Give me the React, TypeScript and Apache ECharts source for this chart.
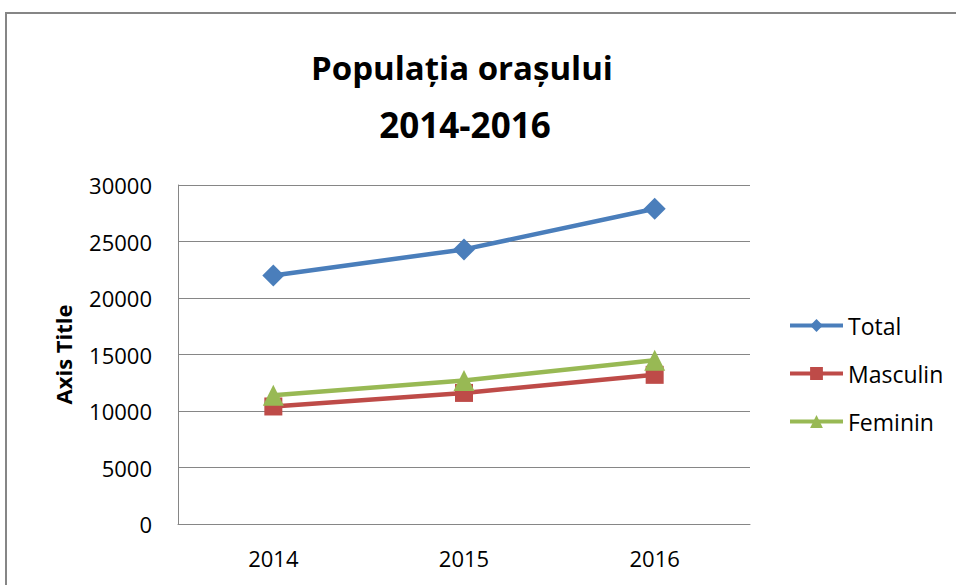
import React, { useEffect, useRef } from "react";
import * as echarts from "echarts";

const years = ["2014", "2015", "2016"];
const totalValues = [22000, 24300, 27900];
const masculinValues = [10400, 11600, 13200];
const femininValues = [11400, 12700, 14500];
const titleLines = ["Populația orașului", "2014-2016"];
const yAxisName = "Axis Title";

const FONT = "'Open Sans', Lato, 'DejaVu Sans', sans-serif";

export default function App() {
  const ref = useRef<HTMLDivElement>(null);
  useEffect(() => {
    if (!ref.current) return;
    const chart = echarts.init(ref.current, undefined, { renderer: "svg" });
    const lineSeries = (name: string, data: number[], color: string, symbol: string, size: number) => ({
      name,
      type: "line",
      data,
      symbol,
      symbolSize: size,
      showAllSymbol: true,
      lineStyle: { color, width: 4.5 },
      itemStyle: { color },
    });
    chart.setOption({
      animation: false,
      backgroundColor: "#ffffff",
      textStyle: { fontFamily: FONT },
      title: [
        {
          text: titleLines[0],
          left: 457,
          top: 34,
          textAlign: "center",
          textStyle: { fontSize: 33, fontWeight: "bold", color: "#000", lineHeight: 57, fontFamily: FONT },
        },
        {
          text: titleLines[1],
          left: 460,
          top: 91,
          textAlign: "center",
          textStyle: { fontSize: 35, fontWeight: "bold", color: "#000", lineHeight: 57, fontFamily: FONT },
        },
      ],
      graphic: [
        {
          type: "rect",
          shape: { x: 6, y: 13, width: 1000, height: 1000 },
          style: { fill: "none", stroke: "#868686", lineWidth: 2 },
          silent: true,
        },
      ],
      legend: {
        orient: "vertical",
        left: 783,
        top: 309,
        itemWidth: 53,
        itemHeight: 16,
        itemGap: 25,
        data: ["Total", "Masculin", "Feminin"],
        lineStyle: { width: 4 },
        textStyle: { fontSize: 23, color: "#000", fontFamily: FONT },
      },
      grid: { left: 178, top: 185, width: 572, height: 339, containLabel: false },
      xAxis: {
        type: "category",
        data: years,
        boundaryGap: true,
        axisLine: { show: true, lineStyle: { color: "#868686", width: 1 } },
        axisTick: { show: false },
        axisLabel: { fontSize: 22, color: "#000", margin: 23, fontFamily: FONT },
      },
      yAxis: {
        type: "value",
        min: 0,
        max: 30000,
        interval: 5000,
        name: yAxisName,
        nameLocation: "middle",
        nameGap: 104,
        nameTextStyle: { fontSize: 22, fontWeight: "bold", color: "#000", fontFamily: FONT },
        axisLine: { show: true, lineStyle: { color: "#868686", width: 1 } },
        axisTick: { show: false },
        splitLine: { show: true, lineStyle: { color: "#868686", width: 1 } },
        axisLabel: {
          fontSize: 22,
          color: "#000",
          margin: 26,
          fontFamily: FONT,
          formatter: (v: number) => String(v),
        },
      },
      series: [
        lineSeries("Total", totalValues, "#4A7EBB", "diamond", 22),
        lineSeries("Masculin", masculinValues, "#BE4B48", "rect", 18),
        lineSeries("Feminin", femininValues, "#98B954", "triangle", 21),
      ],
    });
    return () => chart.dispose();
  }, []);
  return (
    <div
      ref={ref}
      style={{ position: "fixed", left: 0, top: 0, width: 956, height: 585 }}
    />
  );
}
